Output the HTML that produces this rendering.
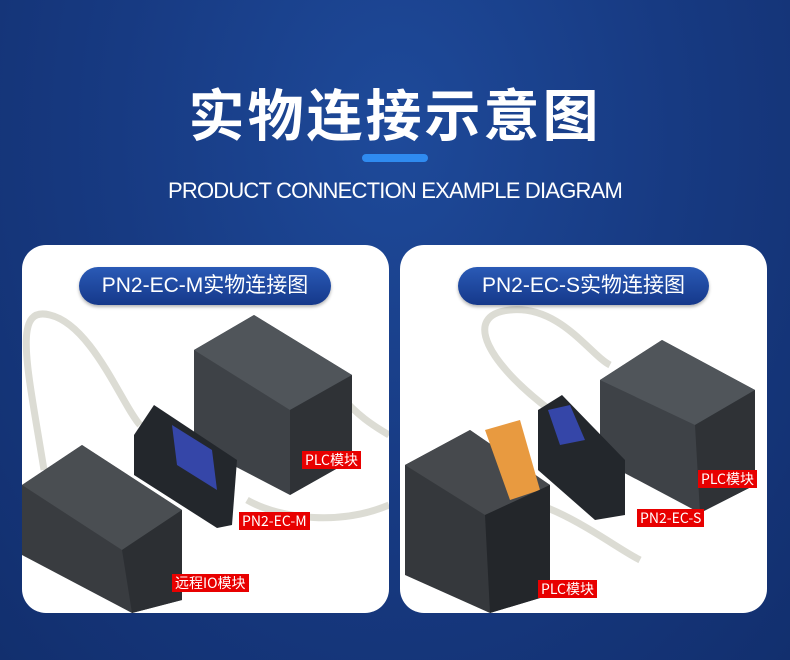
<!DOCTYPE html>
<html><head><meta charset="utf-8"><style>
*{margin:0;padding:0;box-sizing:border-box}
body{width:790px;height:660px;overflow:hidden;font-family:"Liberation Sans","Noto Sans CJK SC",sans-serif;
background:radial-gradient(ellipse at 50% 20%,#1e4a9a 0%,#173a82 50%,#122f6e 100%);position:relative}
.t1{position:absolute;top:72px;left:0;width:790px;text-align:center;color:#fff;font-size:56px;font-weight:bold;letter-spacing:3px;font-family:"Noto Sans CJK SC",sans-serif}
.bar{position:absolute;left:362px;top:154px;width:66px;height:8px;border-radius:4px;background:#2f8bf0}
.t2{position:absolute;top:178px;left:0;width:790px;text-align:center;color:#fff;font-size:22px;letter-spacing:-0.8px}
.card{position:absolute;top:245px;width:367px;height:368px;background:#fff;border-radius:24px;overflow:hidden}
.pill{position:absolute;top:22px;height:38px;border-radius:19px;background:linear-gradient(#2a5ab6,#15388a);color:#fff;font-size:21px;line-height:38px;text-align:center;box-shadow:0 2px 3px rgba(0,0,0,.3)}
.lab{position:absolute;background:#e80000;color:#fff;font-size:14px;line-height:18px;padding:0 3px;font-family:"Noto Sans CJK SC",sans-serif}
svg{position:absolute;left:0;top:0}
</style></head><body>
<div class="t1">实物连接示意图</div>
<div class="bar"></div>
<div class="t2">PRODUCT CONNECTION EXAMPLE DIAGRAM</div>

<div class="card" style="left:22px">
<svg width="367" height="368">
<path d="M22 225 C 5 120, -10 60, 28 70 C 70 80, 100 160, 118 180" stroke="#dcdcd4" stroke-width="7" fill="none"/>
<path d="M225 255 C 260 275, 320 280, 367 260" stroke="#dcdcd4" stroke-width="7" fill="none"/>
<path d="M318 150 C 335 170, 350 180, 367 190" stroke="#dcdcd4" stroke-width="7" fill="none"/>
<polygon points="172,105 232,70 330,130 330,215 268,250 172,200" fill="#3e4247"/>
<polygon points="172,105 232,70 330,130 268,165" fill="#50555a"/>
<polygon points="268,165 330,130 330,215 268,250" fill="#2f3236"/>
<polygon points="112,190 132,160 215,215 210,280 195,283 112,230" fill="#23272c"/>
<polygon points="150,180 190,205 195,245 155,220" fill="#3546a8"/>
<polygon points="0,240 60,200 160,265 160,355 110,368 0,310" fill="#393c40"/>
<polygon points="0,240 60,200 160,265 100,305" fill="#4a4e52"/>
<polygon points="100,305 160,265 160,355 110,368" fill="#2c2f33"/>
</svg>
<div class="pill" style="left:57px;width:252px">PN2-EC-M实物连接图</div>
<div class="lab" style="left:280px;top:206px">PLC模块</div>
<div class="lab" style="left:217px;top:267px">PN2-EC-M</div>
<div class="lab" style="left:150px;top:329px">远程IO模块</div>
</div>

<div class="card" style="left:400px">
<svg width="367" height="368">
<path d="M150 165 C 90 120, 60 70, 110 65 C 160 60, 190 110, 210 120" stroke="#dcdcd4" stroke-width="7" fill="none"/>
<path d="M90 250 C 150 250, 210 300, 240 315" stroke="#dcdcd4" stroke-width="7" fill="none"/>
<polygon points="200,135 262,95 355,145 355,240 300,268 200,215" fill="#3e4247"/>
<polygon points="200,135 262,95 355,145 295,180" fill="#50555a"/>
<polygon points="295,180 355,145 355,240 300,268" fill="#2f3236"/>
<polygon points="138,165 162,150 225,215 225,270 195,275 138,225" fill="#23272c"/>
<polygon points="148,165 170,160 185,195 160,200" fill="#3546a8"/>
<polygon points="5,220 70,185 150,240 150,350 90,368 5,330" fill="#35383c"/>
<polygon points="5,220 70,185 150,240 85,270" fill="#46494d"/>
<polygon points="85,185 120,175 140,245 110,255" fill="#e89a40"/>
<polygon points="85,270 150,240 150,350 90,368" fill="#23262a"/>
</svg>
<div class="pill" style="left:58px;width:251px">PN2-EC-S实物连接图</div>
<div class="lab" style="left:298px;top:225px">PLC模块</div>
<div class="lab" style="left:237px;top:264px">PN2-EC-S</div>
<div class="lab" style="left:138px;top:335px">PLC模块</div>
</div>
</body></html>
